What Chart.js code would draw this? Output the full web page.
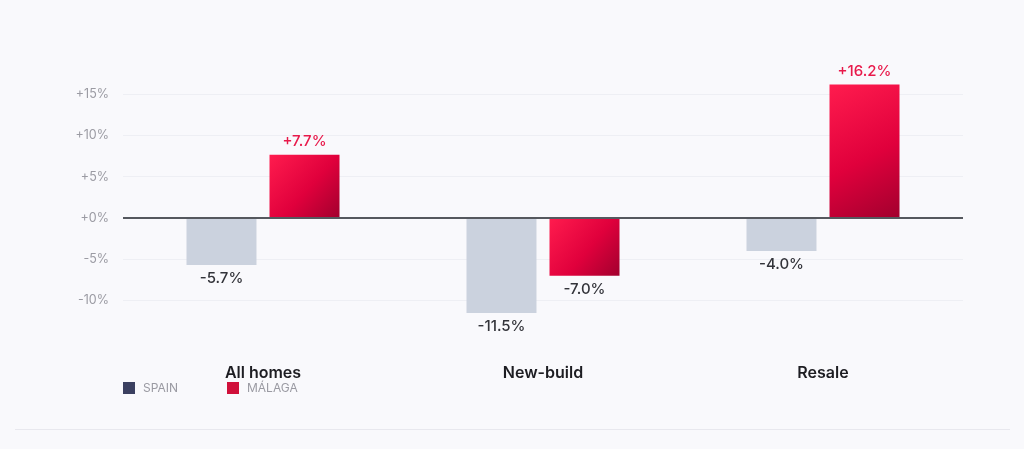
<!DOCTYPE html>
<html><head><meta charset="utf-8">
<script src="https://cdn.jsdelivr.net/npm/chart.js@4/dist/chart.umd.min.js"></script>
<style>
html,body{margin:0;padding:0;background:#f9f9fc;}
#wrap{position:relative;width:1024px;height:449px;overflow:hidden;}
#c{position:absolute;left:0;top:0;}
#legend{position:absolute;left:123px;top:380px;font-family:Inter,sans-serif;font-size:12px;color:#9a9aa2;}
.item{position:absolute;top:0;white-space:nowrap;display:flex;align-items:center;}
.sw{width:12px;height:12px;margin-right:8px;display:inline-block;}
#rule{position:absolute;left:15px;top:429px;width:995px;height:1px;background:#e8e8ee;}
</style></head>
<body><div id="wrap"><canvas id="c" width="1024" height="449"></canvas>
<div id="legend"></div><div id="rule"></div></div>
<script>
const categories = ['All homes','New-build','Resale'];
const spainValues = [-5.7,-11.5,-4.0];
const malagaValues = [7.7,-7.0,16.2];
const seriesNames = ['SPAIN','MÁLAGA'];
const legendColors = ['#3b4060','#d0103a'];
const yTickValues = [-10,-5,0,5,10,15];

function fmt(v){ return (v>0?'+':'')+v.toFixed(1)+'%'; }

const lg = document.getElementById('legend');
seriesNames.forEach((n,i)=>{
  const d=document.createElement('div'); d.className='item'; d.style.left=(i*104)+'px';
  d.innerHTML='<span class="sw" style="background:'+legendColors[i]+'"></span>'+n;
  lg.appendChild(d);
});

const gradientPlugin = {
  id:'grad',
  beforeDatasetsDraw(chart){
    const ctx=chart.ctx;
    const meta=chart.getDatasetMeta(1);
    meta.data.forEach(el=>{
      const top=Math.min(el.y,el.base), bot=Math.max(el.y,el.base);
      const l=el.x-el.width/2, r=el.x+el.width/2;
      const g=ctx.createLinearGradient(l,top,r,bot);
      g.addColorStop(0,'#ff1c4e'); g.addColorStop(0.55,'#e0003c'); g.addColorStop(1,'#a2002e');
      el.options=Object.assign({},el.options,{backgroundColor:g});
    });
  }
};
const zeroLine = {
  id:'zero',
  afterDatasetsDraw(chart){
    const {ctx,chartArea}=chart; const y=chart.scales.y.getPixelForValue(0);
    ctx.save(); ctx.strokeStyle='#55585e'; ctx.lineWidth=2;
    ctx.beginPath(); ctx.moveTo(chartArea.left,y); ctx.lineTo(chartArea.right,y); ctx.stroke(); ctx.restore();
  }
};
const valueLabels = {
  id:'vals',
  afterDatasetsDraw(chart){
    const ctx=chart.ctx; ctx.save();
    ctx.font='500 15px Inter, sans-serif'; ctx.textAlign='center';
    chart.data.datasets.forEach((ds,di)=>{
      chart.getDatasetMeta(di).data.forEach((el,i)=>{
        const v=ds.data[i];
        if(v>=0){ ctx.fillStyle= di===1?'#e8194a':'#333'; ctx.textBaseline='bottom'; ctx.fillText(fmt(v),el.x,el.y-6); }
        else { ctx.fillStyle='#33343a'; ctx.textBaseline='top'; ctx.fillText(fmt(v),el.x,el.y+6); }
      });
    });
    ctx.restore();
  }
};

new Chart(document.getElementById('c'),{
  type:'bar',
  data:{labels:categories,datasets:[
    {label:seriesNames[0],data:spainValues,backgroundColor:'#cbd2de',categoryPercentage:0.593,barPercentage:0.843},
    {label:seriesNames[1],data:malagaValues,backgroundColor:'#e0003c',categoryPercentage:0.593,barPercentage:0.843}
  ]},
  options:{
    responsive:false,animation:false,
    layout:{padding:{top:78,right:61,left:0,bottom:0}},
    plugins:{legend:{display:false},tooltip:{enabled:false}},
    scales:{
      x:{grid:{display:false,drawTicks:false},border:{display:false},
        ticks:{padding:47,color:'#1d1d22',font:{family:'Inter',size:16,weight:'600'}},
        afterFit(s){s.height=132;}},
      y:{min:-12,max:17,afterFit(s){s.width=123;},
        afterBuildTicks(s){s.ticks=yTickValues.map(v=>({value:v}));},
        grid:{color:'#eeeff4',drawTicks:false},border:{display:false},
        ticks:{padding:14,color:'#9b9ba3',font:{family:'Inter',size:12.5},callback:v=>(v>=0?'+':'')+v+'%'}}
    }
  },
  plugins:[gradientPlugin,zeroLine,valueLabels]
});
</script></body></html>
